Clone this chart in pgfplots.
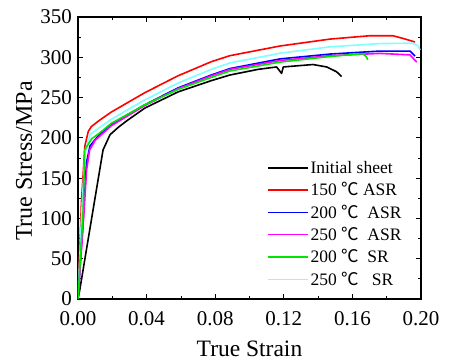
\documentclass[border=0pt]{standalone}
\usepackage{fontspec}
\setmainfont{Liberation Serif}
\newfontfamily\cjk{Noto Sans CJK SC}
\usepackage{pgfplots}
\pgfplotsset{compat=1.18}
\definecolor{cRed}{RGB}{255,0,0}
\definecolor{cBlue}{RGB}{0,0,255}
\definecolor{cMag}{RGB}{255,0,255}
\definecolor{cGreen}{RGB}{0,230,0}
\definecolor{cCyan}{RGB}{128,255,255}
\newcommand{\dC}{{\cjk ℃}}
\begin{document}
\begin{tikzpicture}
\begin{axis}[
  name=ax,
  scale only axis,
  width=343pt, height=282pt,
  xmin=0, xmax=0.20, ymin=0, ymax=350,
  xtick={0,0.04,0.08,0.12,0.16,0.20},
  xticklabels={0.00,0.04,0.08,0.12,0.16,0.20},
  ytick={0,50,100,150,200,250,300,350},
  minor x tick num=1, minor y tick num=1,
  tick align=inside,
  major tick length=5pt, minor tick length=3pt,
  tick style={black, line width=0.8pt},
  axis line style={line width=1.3pt},
  /pgf/number format/assume math mode=true,
  tick label style={font=\fontsize{21}{23}\selectfont},
  xticklabel style={inner sep=0pt, yshift=-12pt},
  yticklabel style={inner sep=0pt, xshift=-6pt},
  xlabel={True Strain}, ylabel={True Stress/MPa},
  every axis x label/.style={at={(rel axis cs:0.5,0)}, anchor=base, yshift=-58pt, font=\fontsize{23.5}{26}\selectfont},
  every axis y label/.style={at={(rel axis cs:0,0.5)}, xshift=-54pt, yshift=-3pt, rotate=90, anchor=center, font=\fontsize{24}{26}\selectfont},
  legend cell align=left,
  legend style={at={(0.552,0.494)}, anchor=north west, draw=none, fill=none,
    font=\fontsize{17.5}{19}\selectfont, row sep=4.5pt,
    inner sep=0pt, nodes={inner sep=1.5pt}},
  legend image code/.code={\draw[#1,line width=1.5pt] (0pt,0pt) -- (40pt,0pt);},
  every axis plot/.append style={line width=1.6pt, line join=round},
]
\addplot[black] coordinates {(0,0) (0.001,11) (0.0146,185) (0.0187,204) (0.024,214) (0.029,222) (0.039,237) (0.0583,257) (0.0777,271) (0.0886,278) (0.105,285) (0.1158,288) (0.1187,280) (0.1197,288) (0.137,291) (0.145,288) (0.1508,282) (0.1537,276)};
\addlegendentry{Initial sheet}
\addplot[cRed] coordinates {(0,0) (0.002,120) (0.004,190) (0.006,208) (0.0078,214) (0.012,221) (0.0194,232) (0.0389,256) (0.0583,277) (0.0777,294.5) (0.0886,302) (0.1178,314) (0.147,322.6) (0.170,326.7) (0.1837,326.7) (0.1895,323.4) (0.1965,319)};
\addlegendentry{150 \dC\ ASR}
\addplot[cCyan, forget plot] coordinates {(0,0) (0.002,100) (0.004,180) (0.007,204) (0.012,212) (0.0194,223) (0.0389,247) (0.0583,268) (0.0777,285) (0.0886,293) (0.1178,305) (0.147,313) (0.176,317) (0.195,317.5) (0.1985,314) (0.1994,309)};
\addplot[cBlue] coordinates {(0,0) (0.003,100) (0.005,170) (0.007,190) (0.012,203) (0.0194,217) (0.0389,241) (0.0583,262) (0.0777,278) (0.0886,286) (0.1178,298) (0.147,304) (0.176,307.7) (0.1936,307.7) (0.1965,301.5)};
\addlegendentry{200 \dC\ \ ASR}
\addplot[cMag] coordinates {(0,0) (0.003,90) (0.005,160) (0.0068,185) (0.01,197) (0.0194,215) (0.0389,240) (0.0583,261) (0.0777,277) (0.0886,285) (0.1178,296) (0.147,302) (0.176,304.8) (0.1936,303) (0.1975,294)};
\addlegendentry{250 \dC\ \ ASR}
\addplot[cGreen] coordinates {(0,0) (0.003,110) (0.0039,185) (0.008,199) (0.012,205) (0.0194,218) (0.0389,241) (0.0583,260) (0.0777,275) (0.0886,283) (0.1178,294) (0.147,301) (0.166,304.5) (0.168,301) (0.169,297)};
\addlegendentry{200 \dC\ \ SR}
\addlegendimage{cCyan}
\addlegendentry{250 \dC\ \ \ SR}
\end{axis}
\pgfresetboundingbox
\useasboundingbox ([shift={(-78pt,-64pt)}]ax.south west) rectangle ([shift={(28pt,17pt)}]ax.north east);
\end{tikzpicture}
\end{document}
